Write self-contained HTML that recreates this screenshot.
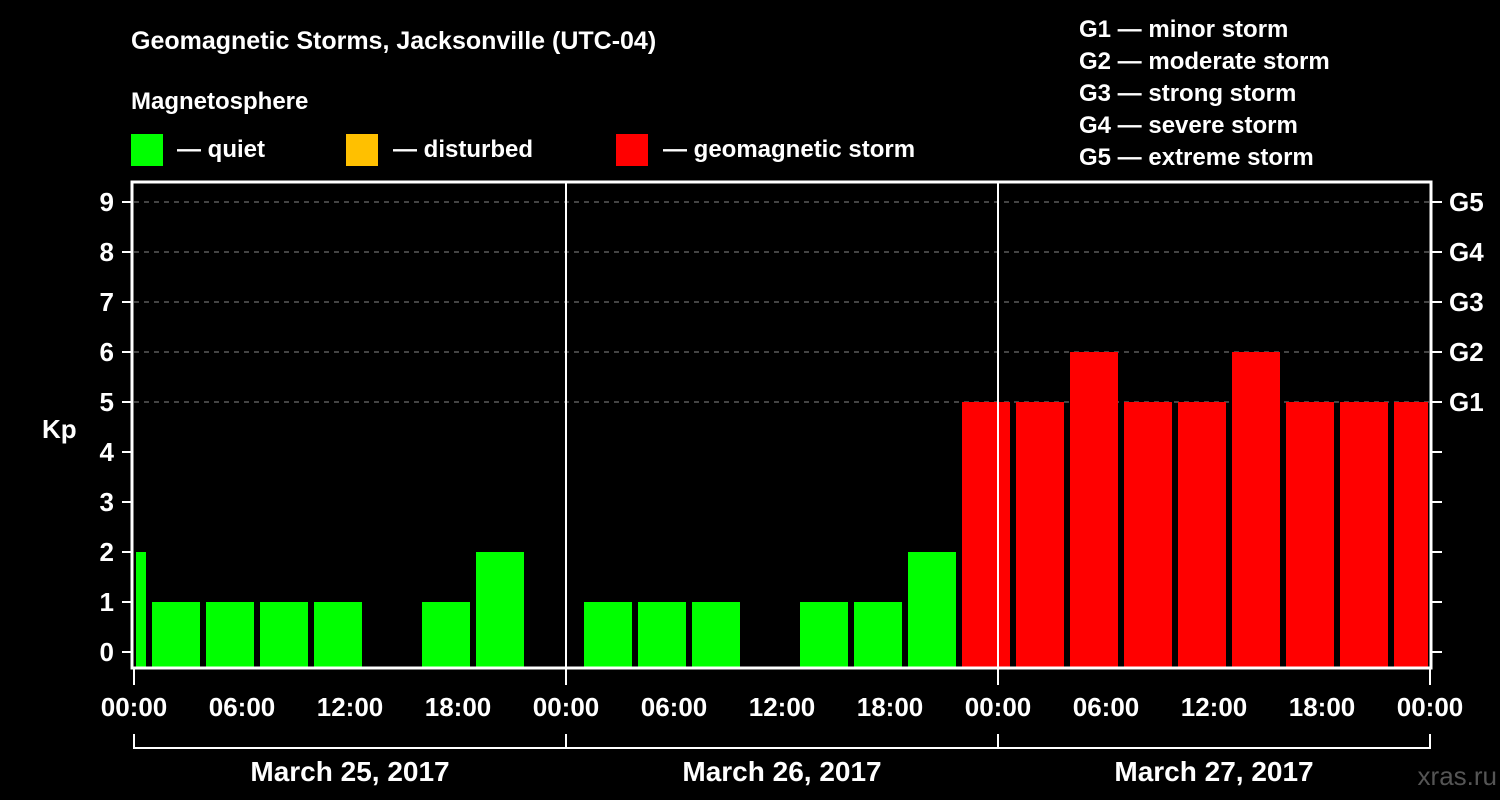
<!DOCTYPE html>
<html><head><meta charset="utf-8"><style>
body{margin:0;background:#000;}
svg{display:block;font-family:"Liberation Sans",Arial,sans-serif;font-weight:bold;}
</style></head><body>
<svg id="chart" width="1500" height="800" viewBox="0 0 1500 800">
<rect width="1500" height="800" fill="#000"/>
<text x="131" y="49" fill="#fff" font-size="25">Geomagnetic Storms, Jacksonville (UTC-04)</text>
<text x="131" y="109" fill="#fff" font-size="24">Magnetosphere</text>
<g><rect x="131" y="134" width="32" height="32" fill="#00ff00"/><text x="177" y="157" fill="#fff" font-size="24">— quiet</text></g>
<g><rect x="346" y="134" width="32" height="32" fill="#ffc000"/><text x="393" y="157" fill="#fff" font-size="24">— disturbed</text></g>
<g><rect x="616" y="134" width="32" height="32" fill="#ff0000"/><text x="663" y="157" fill="#fff" font-size="24">— geomagnetic storm</text></g>
<g fill="#fff" font-size="24">
<text x="1079" y="37">G1 — minor storm</text>
<text x="1079" y="69">G2 — moderate storm</text>
<text x="1079" y="101">G3 — strong storm</text>
<text x="1079" y="133">G4 — severe storm</text>
<text x="1079" y="165">G5 — extreme storm</text>
</g>
<text x="42" y="438" fill="#fff" font-size="26">Kp</text>
<text x="1497" y="785" fill="#555" font-size="26" text-anchor="end" font-weight="normal">xras.ru</text>
<g id="grid"></g><g id="bars"></g><g id="axes"></g>
</svg>
<script>
const kpValues=[2,1,1,1,1,0,1,2,0,1,1,1,0,1,1,2,5,5,6,5,5,6,5,5,5];
const yTicks=[0,1,2,3,4,5,6,7,8,9];
const gLabels=["","","","","","G1","G2","G3","G4","G5"];
const xLabels=["00:00","06:00","12:00","18:00","00:00","06:00","12:00","18:00","00:00","06:00","12:00","18:00","00:00"];
const dayLabels=["March 25, 2017","March 26, 2017","March 27, 2017"];
const ns="http://www.w3.org/2000/svg";
const X0=134,X1=1430,PX_HR=18,FIRST_HR=-2,Y0=652,PX_KP=50,BOT=668,TOP=182;
const xs=h=>X0+h*PX_HR, ys=v=>Y0-v*PX_KP;
function mk(t,a,p){const e=document.createElementNS(ns,t);for(const k in a)e.setAttribute(k,a[k]);p.appendChild(e);return e;}
const grid=document.getElementById('grid'),bars=document.getElementById('bars'),axes=document.getElementById('axes');
yTicks.forEach((v,i)=>{
 if(v>=5){const l=mk('line',{x1:X0,x2:X1,y1:ys(v),y2:ys(v),stroke:'#888','stroke-dasharray':'5,5','stroke-width':1},grid);
 
 }
 mk('line',{x1:122,x2:132,y1:ys(v),y2:ys(v),stroke:'#fff','stroke-width':2},axes);
 mk('line',{x1:1432,x2:1442,y1:ys(v),y2:ys(v),stroke:'#fff','stroke-width':2},axes);
 const t=mk('text',{x:114,y:ys(v)+9,fill:'#fff','font-size':26,'text-anchor':'end'},axes);t.textContent=v;
 
 
 if(gLabels[i]){const g=mk('text',{x:1449,y:ys(v)+9,fill:'#fff','font-size':26},axes);g.textContent=gLabels[i];
 
 }
});
kpValues.forEach((v,i)=>{
 if(v<=0)return;
 let x=xs(FIRST_HR+i*3), x2=x+48;
 x=Math.max(x,X0+2); x2=Math.min(x2,X1-2);
 const c=v>=5?'#ff0000':(v>=4?'#ffc000':'#00ff00');
 const r=mk('rect',{x:x,y:ys(v),width:x2-x,height:BOT-ys(v),fill:c},bars);
 
 
});
[1,2].forEach(d=>{mk('line',{x1:xs(d*24),x2:xs(d*24),y1:TOP,y2:BOT,stroke:'#fff','stroke-width':2},axes);});
mk('rect',{x:132,y:182,width:1299,height:486,fill:'none',stroke:'#fff','stroke-width':3},axes);
xLabels.forEach((s,i)=>{
 const x=xs(i*6);
 const t=mk('text',{x:x,y:716,fill:'#fff','font-size':26,'text-anchor':'middle'},axes);t.textContent=s;
 
 
 if(i%4==0){mk('line',{x1:x,x2:x,y1:668,y2:685,stroke:'#fff','stroke-width':2},axes);
  mk('line',{x1:x,x2:x,y1:734,y2:749,stroke:'#fff','stroke-width':2},axes);}
});
mk('line',{x1:xs(0),x2:xs(72),y1:748,y2:748,stroke:'#fff','stroke-width':2},axes);
dayLabels.forEach((s,i)=>{const t=mk('text',{x:xs(i*24+12),y:781,fill:'#fff','font-size':28,'text-anchor':'middle'},axes);t.textContent=s;
 
 });
</script>
</body></html>
